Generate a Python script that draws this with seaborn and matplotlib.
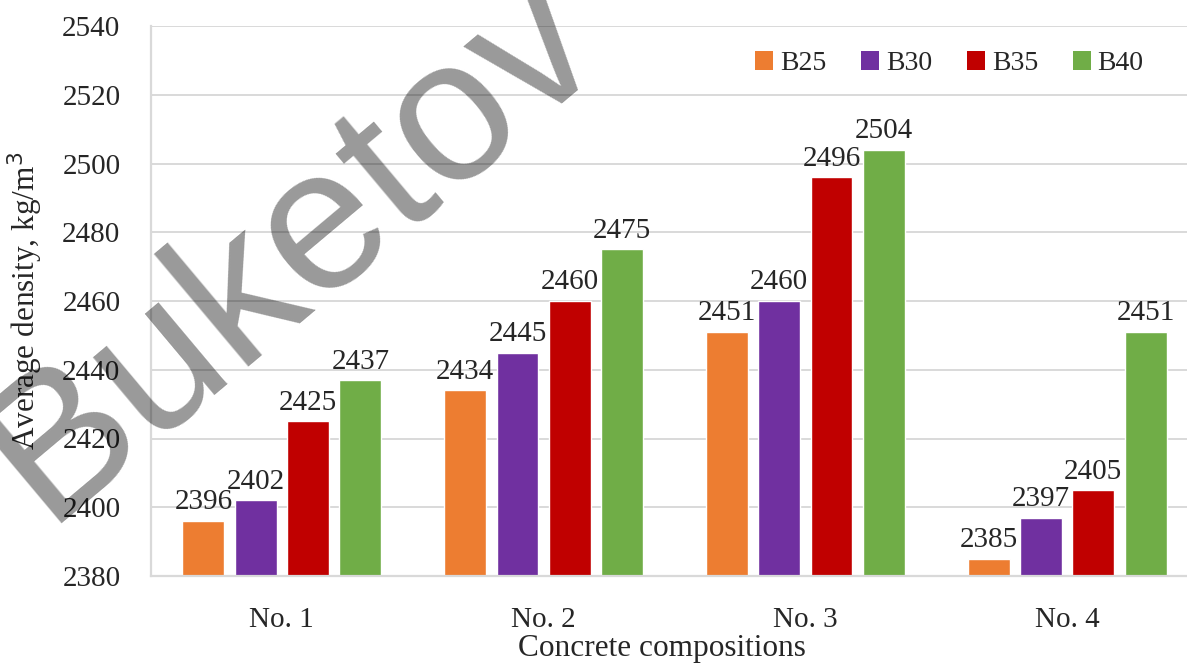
import pandas as pd
import matplotlib.pyplot as plt
import seaborn as sns
from matplotlib.patches import Patch

compositions = ["No. 1", "No. 2", "No. 3", "No. 4"]
grades = ["B25", "B30", "B35", "B40"]
b25 = [2396, 2434, 2451, 2385]
b30 = [2402, 2445, 2460, 2397]
b35 = [2425, 2460, 2496, 2405]
b40 = [2437, 2475, 2504, 2451]
colors = ["#ED7D31", "#7030A0", "#C00000", "#70AD47"]

rows = []
for g, vals in zip(grades, [b25, b30, b35, b40]):
    for c, v in zip(compositions, vals):
        rows.append({"comp": c, "grade": g, "density": v})
df = pd.DataFrame(rows)

sns.set_style("white")
plt.rcParams["font.family"] = ["Liberation Serif", "DejaVu Serif"]

fig = plt.figure(figsize=(11.87, 6.7), dpi=100)
ax = fig.add_axes([151 / 1187, 94 / 670, 1047 / 1187, 550 / 670])

sns.barplot(data=df, x="comp", y="density", hue="grade", palette=colors,
            width=0.8, gap=0.2, saturation=1, ax=ax, legend=False, zorder=2)

ax.set_ylim(2380, 2540)
ax.set_xlim(-0.5, 3.5)
ax.set_yticks(range(2380, 2541, 20))
ax.grid(axis="y", color="#d9d9d9", linewidth=1.4, zorder=0)
ax.set_axisbelow(True)
for s in ["top", "right"]:
    ax.spines[s].set_visible(False)
for s in ["left", "bottom"]:
    ax.spines[s].set_color("#d9d9d9")
    ax.spines[s].set_linewidth(1.6)
ax.tick_params(axis="both", length=0, labelsize=21)
ax.tick_params(axis="y", pad=22)
ax.tick_params(axis="x", pad=22)

for cont in ax.containers:
    ax.bar_label(cont, fmt="%d", padding=4, fontsize=21)

ax.set_xlabel("Concrete compositions", fontsize=22.5)
ax.set_ylabel("Average density, kg/m$^3$", fontsize=22.5)
ax.xaxis.set_label_coords(0.488, -0.105)
ax.yaxis.set_label_coords(-0.101, 0.5)

handles = [Patch(facecolor=c, edgecolor="none") for c in colors]
ax.legend(handles, grades, loc="upper right", ncol=4, frameon=False,
          fontsize=20, handlelength=0.65, handleheight=0.65, handletextpad=0.25,
          columnspacing=1.25, bbox_to_anchor=(0.972, 1.0))

# watermark
fig.text(292 / 1187, 1 - 248 / 670, "Buketov", fontsize=146, rotation=40,
         color="black", alpha=0.4, ha="center", va="center",
         family=["Liberation Sans", "DejaVu Sans"])

fig.savefig("out.png", dpi=100)
